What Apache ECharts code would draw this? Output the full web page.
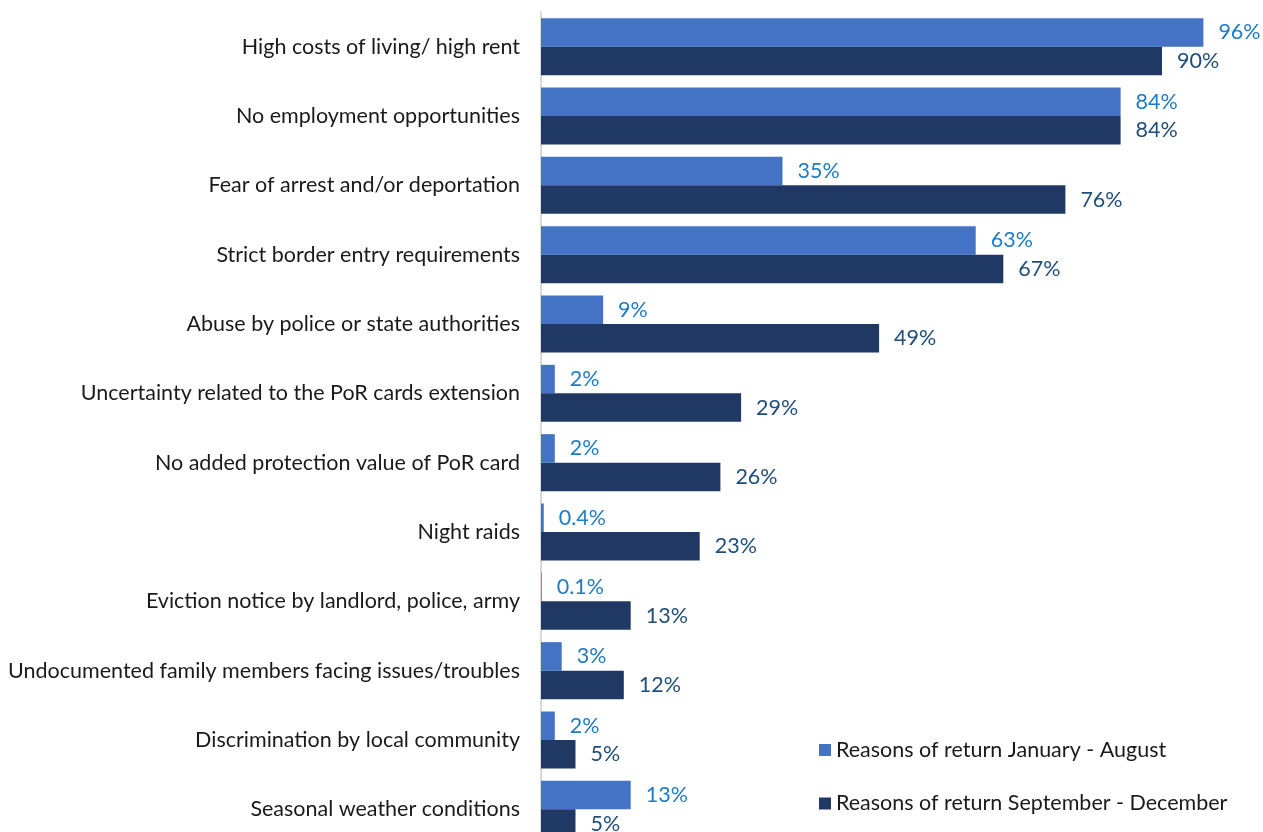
<!DOCTYPE html>
<html>
<head>
<meta charset="utf-8">
<title>Reasons of return</title>
<script src="https://cdn.jsdelivr.net/npm/echarts@6/dist/echarts.min.js"></script>
<style>
  html, body { margin: 0; padding: 0; background: #ffffff; }
  #chart { width: 1263px; height: 832px; }
</style>
</head>
<body>
<div id="chart"></div>
<script>
// Reasons for return, share of respondents (%)
const categories = [
  'High costs of living/ high rent',
  'No employment opportunities',
  'Fear of arrest and/or deportation',
  'Strict border entry requirements',
  'Abuse by police or state authorities',
  'Uncertainty related to the PoR cards extension',
  'No added protection value of PoR card',
  'Night raids',
  'Eviction notice by landlord, police, army',
  'Undocumented family members facing issues/troubles',
  'Discrimination by local community',
  'Seasonal weather conditions'
];
const seriesNames = [
  'Reasons of return January - August',
  'Reasons of return September - December'
];
const janAug = [96, 84, 35, 63, 9, 2, 2, 0.4, 0.1, 3, 2, 13];
const sepDec = [90, 84, 76, 67, 49, 29, 26, 23, 13, 12, 5, 5];

const FONT = 'Lato, "Noto Sans", sans-serif';
const TEXT_SIZE = 21.5;

function barSeries(name, data, color, labelColor) {
  return {
    name: name,
    type: 'bar',
    data: data,
    barWidth: 28.5,
    barGap: '0%',
    itemStyle: { color: color },
    label: {
      show: true,
      position: 'right',
      distance: 15,
      formatter: '{c}%',
      color: labelColor,
      fontFamily: FONT,
      fontSize: TEXT_SIZE
    },
    emphasis: { disabled: true },
    animation: false
  };
}

const chart = echarts.init(document.getElementById('chart'));
chart.setOption({
  backgroundColor: '#ffffff',
  animation: false,
  grid: {
    left: 541, top: 12, width: 690, height: 832,
    containLabel: false,
    outerBoundsMode: 'none'
  },
  xAxis: {
    type: 'value',
    min: 0,
    max: 100,
    show: false
  },
  yAxis: {
    type: 'category',
    data: categories,
    inverse: true,
    axisLine: { show: true, lineStyle: { color: '#d9d9d9', width: 2 } },
    axisTick: { show: false },
    axisLabel: {
      margin: 21,
      color: '#1a1a1a',
      fontFamily: FONT,
      fontSize: TEXT_SIZE
    },
    splitLine: { show: false }
  },
  legend: {
    orient: 'vertical',
    left: 819,
    top: 739,
    padding: 0,
    itemWidth: 12,
    itemHeight: 12,
    itemGap: 31.5,
    icon: 'rect',
    textStyle: { color: '#1a1a1a', fontFamily: FONT, fontSize: TEXT_SIZE },
    data: seriesNames
  },
  series: [
    barSeries(seriesNames[0], janAug, '#4472C4', '#1F7BC4'),
    barSeries(seriesNames[1], sepDec, '#1F3864', '#1F4E79')
  ]
});
</script>
</body>
</html>
